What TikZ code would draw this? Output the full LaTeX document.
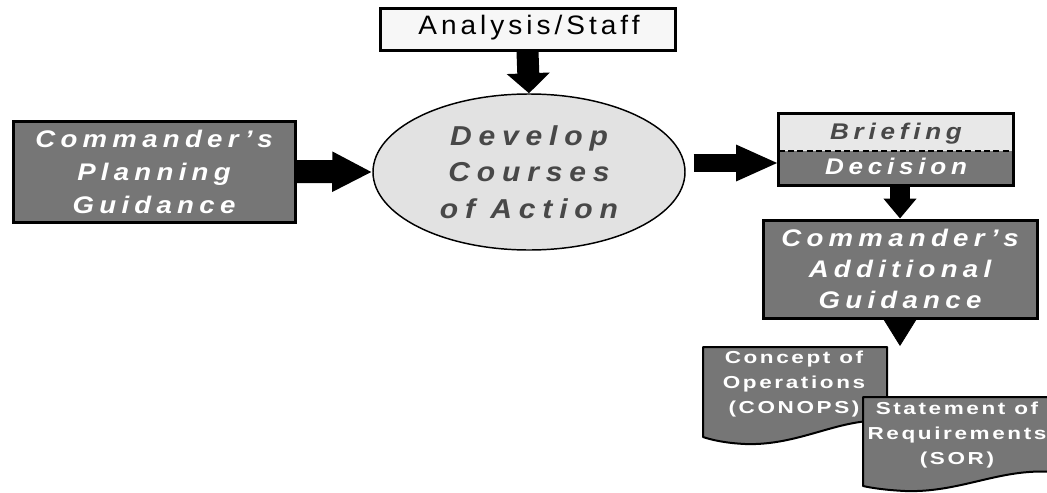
\documentclass[tikz,border=0pt]{standalone}
\usepackage{fontspec}
\setmainfont{Liberation Sans}
\newfontfamily\bigsans[LetterSpace=22, FakeStretch=1.15]{Liberation Sans}
\newfontfamily\ovalsans[LetterSpace=25, FakeStretch=1.1]{Liberation Sans}
\newfontfamily\bdsans[LetterSpace=21, FakeStretch=1.15]{Liberation Sans}
\newfontfamily\midsans[LetterSpace=15, FakeStretch=1.05]{Liberation Sans}
\newfontfamily\docsans[LetterSpace=15, FakeStretch=1.3]{Liberation Sans}
\usetikzlibrary{arrows.meta,shapes.geometric}
\definecolor{boxgray}{RGB}{118,118,118}
\definecolor{ovalgray}{RGB}{226,226,226}
\definecolor{paleband}{RGB}{232,232,232}
\definecolor{inkgray}{RGB}{72,72,72}
\tikzset{
  darkbox/.style={draw=black, line width=2.25pt, fill=boxgray, text=white,
    inner sep=0pt, align=center},
  doctext/.style={font=\docsans\bfseries\fontsize{13}{19}\selectfont,
    text=white, align=center, inner sep=0pt},
  docshape/.style={draw=black, line width=1.5pt, fill=boxgray, line join=round},
  blockarrow/.style n args={3}{line width=#1, draw=black,
    -{Triangle[width=#2, length=#3]}},
}
\begin{document}
\begin{tikzpicture}[x=0.75pt, y=-0.75pt]
\useasboundingbox (0,0) rectangle (1047,493);
\fill[white] (0,0) rectangle (1047,493);
\clip (0,0) rectangle (1047,493);

% top input box
\node[draw=black, line width=2.25pt, fill=white!97!black, minimum width=221.25pt,
  minimum height=31.5pt, inner sep=0pt] (an) at (527.5,29) {};
\node[text=black, inner sep=0pt, font=\midsans\fontsize{20}{22}\selectfont]
  (antext) at (529,28) {Analysis/Staff};

% central process
\node[ellipse, draw=black, line width=1.1pt, fill=ovalgray, minimum width=234pt,
  minimum height=117pt, inner sep=0pt, text=inkgray, align=center,
  font=\ovalsans\bfseries\itshape\fontsize{20.5}{27.4}\selectfont]
  (dev) at (529,172) {Develop\\Courses\\of Action};

% planning guidance
\node[darkbox, font=\bigsans\bfseries\itshape\fontsize{18}{24.75}\selectfont,
  minimum width=211.5pt, minimum height=75.75pt]
  (cpg) at (154,171.5) {Commander’s\\Planning\\Guidance};

% briefing / decision box
\node[minimum width=175.5pt, minimum height=53.25pt, inner sep=0pt]
  (bd) at (896,149.5) {};
\fill[paleband] (bd.north west) rectangle (bd.east |- 0,151);
\fill[boxgray] (bd.west |- 0,151) rectangle (bd.south east);
\draw[dashed, line width=1pt, dash pattern=on 4.5pt off 2.5pt]
  (bd.west |- 0,151) -- (bd.east |- 0,151);
\draw[line width=2.25pt] (bd.north west) rectangle (bd.south east);
\node[font=\bdsans\bfseries\itshape\fontsize{17}{20}\selectfont,
  text=inkgray, inner sep=0pt] (brief) at (896,134) {Briefing};
\node[font=\bdsans\bfseries\itshape\fontsize{17}{20}\selectfont,
  text=white, inner sep=0pt] (dec) at (896,166) {Decision};

% additional guidance
\node[darkbox, font=\bigsans\bfseries\itshape\fontsize{18}{23.25}\selectfont,
  minimum width=205.5pt, minimum height=73.5pt]
  (cag) at (900,269) {Commander’s\\Additional\\Guidance};

% output documents
\coordinate (ctop) at (900,346);
\path[docshape] (703,347) -- (887,347) -- (887,421)
  .. controls (840,417) and (800,446) .. (745,444)
  .. controls (725,443) and (712,440) .. (703,437) -- cycle;
\node[doctext] (conops) at (794,384) {Concept of\\Operations\\(CONOPS)};

\path[docshape] (863,397) -- (1052,397) -- (1052,472)
  .. controls (1000,468) and (960,493) .. (905,491)
  .. controls (885,490) and (872,488) .. (863,486) -- cycle;
\node[doctext] (sor) at (957,435) {Statement of\\Requirements\\(SOR)};

% connectors
\draw[blockarrow={16.5pt}{31.5pt}{15pt}] (an.south) -- (dev.north);
\draw[blockarrow={17.25pt}{28pt}{30pt}] (cpg.east) -- (dev.west);
\coordinate (r0) at ([shift={(8,-9)}]dev.east);
\draw[blockarrow={13.5pt}{25pt}{32pt}] (r0) -- (r0 -| bd.west);
\draw[blockarrow={15pt}{24pt}{15pt}] (bd.south -| cag.north) -- (cag.north);
\draw[blockarrow={0.5pt}{24.75pt}{20pt}] ([yshift=-1.2pt]cag.south) -- (ctop);
\end{tikzpicture}
\end{document}
